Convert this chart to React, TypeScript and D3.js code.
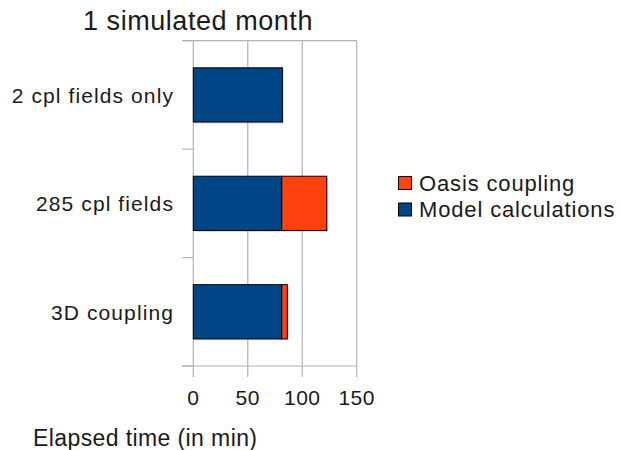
import React from "react";
import * as d3 from "d3";

const categories = ["2 cpl fields only", "285 cpl fields", "3D coupling"];
const modelCalc = [81.8, 81.2, 81.2];
const oasisCoupling = [0, 41.3, 5.1];
const xTicks = [0, 50, 100, 150];
const seriesNames = ["Oasis coupling", "Model calculations"];
const seriesColors = ["#ff420e", "#004586"];
const titleText = "1 simulated month";
const xTitle = "Elapsed time (in min)";

export default function App() {
  const W = 620, H = 450;
  const left = 193.3, right = 356.7, top = 40.7, bottom = 366;
  const x = d3.scaleLinear().domain([0, 150]).range([left, right]);
  const y = d3.scaleBand<string>().domain(categories).range([top, bottom]).paddingInner(0.5).paddingOuter(0.25);
  const step = y.step();
  const font = "'Liberation Sans', Arial, sans-serif";
  const grid = "#b3b3b3";
  const boundaries = d3.range(categories.length + 1).map((i) => top + i * step);

  return (
    <svg width={W} height={H} style={{ position: "absolute", left: 0, top: 0 }} fontFamily={font}>
      <rect width={W} height={H} fill="#fff" />
      <text x={83} y={29.5} fontSize={27} letterSpacing={0.55} fill="#1a1a1a">{titleText}</text>

      {xTicks.map((t) => (
        <line key={"g" + t} x1={x(t)} x2={x(t)} y1={top} y2={bottom + 11} stroke={grid} strokeWidth={1.2} />
      ))}
      <line x1={left - 11} x2={right} y1={top} y2={top} stroke={grid} strokeWidth={1.2} />
      <line x1={left - 11} x2={right} y1={bottom} y2={bottom} stroke={grid} strokeWidth={1.2} />
      {boundaries.map((b, i) => (
        <line key={"yt" + i} x1={left - 11} x2={left} y1={b} y2={b} stroke={grid} strokeWidth={1.2} />
      ))}

      {categories.map((c, i) => {
        const y0 = y(c)!;
        const bw = y.bandwidth();
        const m = modelCalc[i];
        const o = oasisCoupling[i];
        return (
          <g key={c}>
            <rect x={x(0) + 1.5} y={y0 + 1.5} width={x(m + o) - x(0)} height={bw} fill="#000" opacity={0.15} />
            <rect x={x(0)} y={y0} width={x(m) - x(0)} height={bw} fill={seriesColors[1]} stroke="#000" strokeWidth={1} />
            {o > 0 && (
              <rect x={x(m)} y={y0} width={x(m + o) - x(m)} height={bw} fill={seriesColors[0]} stroke="#000" strokeWidth={1} />
            )}
          </g>
        );
      })}

      {categories.map((c) => (
        <text key={"l" + c} x={174} y={y(c)! + y.bandwidth() / 2 + 8} textAnchor="end" fontSize={21} letterSpacing={1.1} fill="#1a1a1a">{c}</text>
      ))}

      {xTicks.map((t) => (
        <text key={"xl" + t} x={x(t)} y={405} textAnchor="middle" fontSize={21} letterSpacing={0.5} fill="#1a1a1a">{t}</text>
      ))}

      <text x={33} y={446} fontSize={23} letterSpacing={0.4} fill="#1a1a1a">{xTitle}</text>

      {seriesNames.map((s, i) => (
        <g key={s}>
          <rect x={398.5} y={176.5 + i * 26.5} width={13} height={13} fill={seriesColors[i]} stroke="#000" strokeWidth={1} />
          <text x={419} y={190.5 + i * 26.5} fontSize={22} letterSpacing={0.85} fill="#1a1a1a">{s}</text>
        </g>
      ))}
    </svg>
  );
}
